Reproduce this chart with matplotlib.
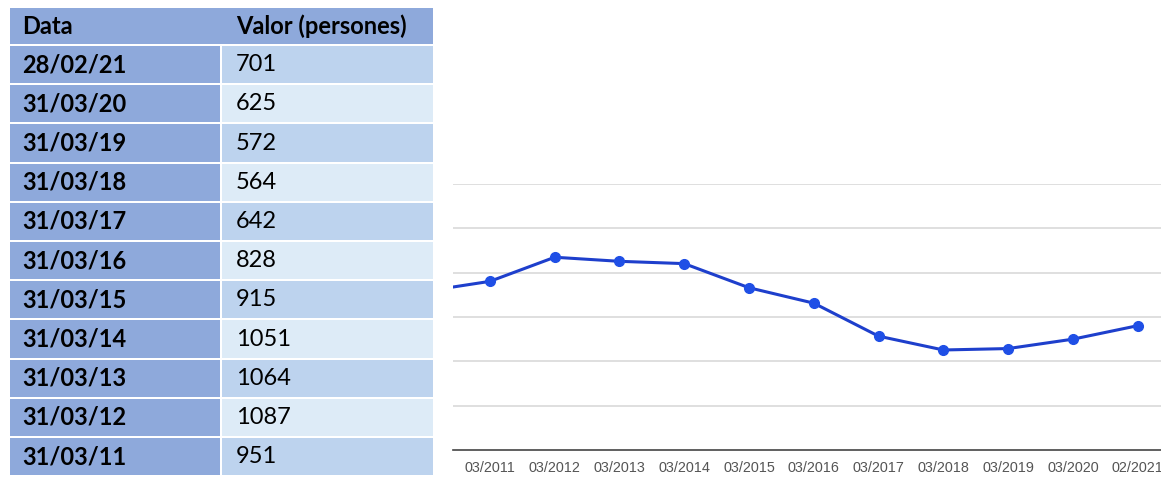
import matplotlib.pyplot as plt
from matplotlib.patches import Rectangle

# Table data (as shown, newest first)
header = ["Data", "Valor (persones)"]
dates = ["28/02/21", "31/03/20", "31/03/19", "31/03/18", "31/03/17", "31/03/16",
         "31/03/15", "31/03/14", "31/03/13", "31/03/12", "31/03/11"]
values = [701, 625, 572, 564, 642, 828, 915, 1051, 1064, 1087, 951]

# Chart data (oldest first); first point is the cut-off one at the left edge
tick_labels = ["03/2011", "03/2012", "03/2013", "03/2014", "03/2015", "03/2016",
               "03/2017", "03/2018", "03/2019", "03/2020", "02/2021"]
prev_value = 895  # 03/2010, only its line segment shows
chart_values = [prev_value] + values[::-1]

W, H = 1161, 482
HEAD_C = "#8EA9DB"
ODD_C = "#BDD3EE"
EVEN_C = "#DDEBF7"
FONT = ["Lato", "DejaVu Sans"]
FS = 17

fig = plt.figure(figsize=(W / 100, H / 100), dpi=100)

# --- table, drawn in pixel coordinates ---
tab = fig.add_axes([0, 0, 1, 1])
tab.set_xlim(0, W)
tab.set_ylim(H, 0)
tab.axis("off")

x0, xm, x1 = 10, 221, 433
top, head_h, row_h = 8, 38, 39.2
gap = 2

tab.add_patch(Rectangle((x0, top), x1 - x0, head_h - gap, color=HEAD_C, lw=0))
tab.text(x0 + 12, top + head_h / 2 - 1, header[0], fontsize=FS, fontweight="bold",
         family=FONT, va="center")
tab.text(xm + 15, top + head_h / 2 - 1, header[1], fontsize=FS, fontweight="bold",
         family=FONT, va="center")

for i, (d, v) in enumerate(zip(dates, values)):
    y = top + head_h + i * row_h
    tab.add_patch(Rectangle((x0, y), xm - x0 - gap / 2, row_h - gap, color=HEAD_C, lw=0))
    tab.add_patch(Rectangle((xm + gap / 2, y), x1 - xm - gap / 2, row_h - gap,
                            color=ODD_C if i % 2 == 0 else EVEN_C, lw=0))
    tab.text(x0 + 12, y + row_h / 2 - 1, d, fontsize=FS, fontweight="bold",
             family=FONT, va="center")
    tab.text(xm + 15, y + row_h / 2 - 1, str(v), fontsize=FS, family=FONT, va="center")

# --- line chart ---
ax_l, ax_r, ax_t, ax_b = 453, W, 184, 450
ax = fig.add_axes([ax_l / W, 1 - ax_b / H, (ax_r - ax_l) / W, (ax_b - ax_t) / H])
xs = list(range(-1, len(tick_labels)))
ax.plot(xs, chart_values, color="#1E3FCC", lw=2.2, marker="o", ms=7,
        mfc="#1F4FE6", mec="#1F4FE6", zorder=3)
ax.set_xlim(-0.57, len(tick_labels) - 1 + 0.36)
ax.set_ylim(0, 1500)
ax.set_yticks([250, 500, 750, 1000, 1250, 1500])
ax.yaxis.grid(True, color="#D9D9D9", lw=1.2)
ax.tick_params(axis="y", length=0, labelleft=False)
ax.set_xticks(range(len(tick_labels)))
ax.set_xticklabels(tick_labels, fontsize=10.4, color="#555555", family="Liberation Sans")
ax.tick_params(axis="x", length=0, pad=8)
for s in ["top", "left", "right"]:
    ax.spines[s].set_visible(False)
ax.spines["bottom"].set_color("#444444")
ax.spines["bottom"].set_linewidth(1.2)
ax.set_facecolor("white")

fig.savefig("out.png", dpi=100)
